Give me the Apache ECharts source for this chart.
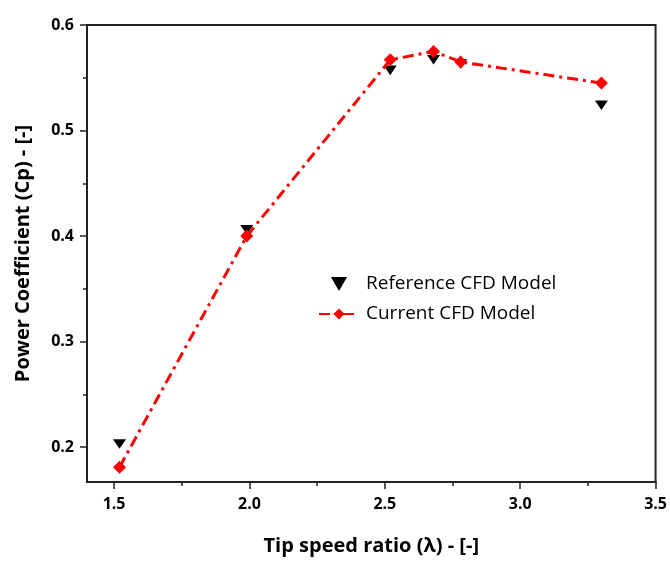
<!DOCTYPE html>
<html>
<head>
<meta charset="utf-8">
<script src="https://cdn.jsdelivr.net/npm/echarts@6/dist/echarts.min.js"></script>
<style>
  html, body { margin: 0; padding: 0; background: #fff; }
  #main { width: 670px; height: 561px; }
</style>
</head>
<body>
<div id="main"></div>
<script>
// tip speed ratio values
var tsr = [1.52, 1.99, 2.52, 2.68, 2.78, 3.30];
// Cp
var refCp = [0.203, 0.406, 0.557, 0.567, 0.563, 0.524];
var curCp = [0.181, 0.400, 0.567, 0.575, 0.565, 0.545];

var xMajor = [1.5, 2.0, 2.5, 3.0, 3.5];
var xMinor = [1.75, 2.25, 2.75, 3.25];
var yMajor = [0.2, 0.3, 0.4, 0.5, 0.6];
var yMinor = [0.25, 0.35, 0.45, 0.55];

function pairs(xs, ys) {
  var out = [];
  for (var i = 0; i < xs.length; i++) out.push([xs[i], ys[i]]);
  return out;
}

var font = '"Open Sans", "Liberation Sans", sans-serif';
var downTri = 'path://M0,0 L10,0 L5,8.66 Z';

function tickLabel(margin) {
  return {
    margin: margin,
    formatter: function (v) { return v.toFixed(1); },
    color: '#000', fontWeight: 'bold', fontSize: 16, fontFamily: font
  };
}

var chart = echarts.init(document.getElementById('main'));
chart.setOption({
  animation: false,
  backgroundColor: '#fff',
  grid: {
    left: 87, right: 12, top: 25, bottom: 77,
    show: true, borderColor: '#222', borderWidth: 2
  },
  legend: {
    orient: 'vertical',
    left: 313, top: 268,
    itemGap: 8,
    itemWidth: 40, itemHeight: 14,
    textStyle: { color: '#000', fontSize: 19, fontFamily: font, lineHeight: 22, padding: [0, 0, 0, 2] },
    data: [
      { name: 'Reference CFD Model', icon: downTri },
      { name: 'Current CFD Model' }
    ]
  },
  xAxis: [{
    type: 'value', min: 1.4, max: 3.5,
    name: 'Tip speed ratio (λ) - [-]',
    nameLocation: 'middle', nameGap: 54,
    nameTextStyle: { color: '#000', fontWeight: 'bold', fontSize: 20, fontFamily: font },
    axisLine: { lineStyle: { color: '#222', width: 2 } },
    axisTick: { customValues: xMajor, length: 7, lineStyle: { color: '#222', width: 1.5 } },
    axisLabel: Object.assign({ customValues: xMajor }, tickLabel(14)),
    splitLine: { show: false }
  }, {
    type: 'value', min: 1.4, max: 3.5, position: 'bottom',
    axisLine: { show: false },
    axisTick: { customValues: xMinor, length: 4, lineStyle: { color: '#222', width: 1.5 } },
    axisLabel: { show: false },
    splitLine: { show: false }
  }],
  yAxis: [{
    type: 'value', min: 0.167, max: 0.6,
    name: 'Power Coefficient (Cp) - [-]',
    nameLocation: 'middle', nameGap: 54, nameRotate: 90,
    nameTextStyle: { color: '#000', fontWeight: 'bold', fontSize: 20, fontFamily: font },
    axisLine: { show: true, lineStyle: { color: '#222', width: 2 } },
    axisTick: { show: true, customValues: yMajor, length: 7, lineStyle: { color: '#222', width: 1.5 } },
    axisLabel: Object.assign({ customValues: yMajor }, tickLabel(13)),
    splitLine: { show: false }
  }, {
    type: 'value', min: 0.167, max: 0.6, position: 'left',
    axisLine: { show: false },
    axisTick: { show: true, customValues: yMinor, length: 4, lineStyle: { color: '#222', width: 1.5 } },
    axisLabel: { show: false },
    splitLine: { show: false }
  }],
  series: [{
    name: 'Reference CFD Model',
    type: 'scatter',
    symbol: downTri, symbolSize: [13, 11], symbolKeepAspect: true,
    itemStyle: { color: '#000', opacity: 1 },
    data: pairs(tsr, refCp),
    z: 2
  }, {
    name: 'Current CFD Model',
    type: 'line',
    symbol: 'diamond', symbolSize: 13,
    itemStyle: { color: '#ff0000', opacity: 1 },
    lineStyle: { color: '#ff0000', width: 3, type: [11, 5, 3, 5] },
    data: pairs(tsr, curCp),
    z: 3
  }]
});
</script>
</body>
</html>
